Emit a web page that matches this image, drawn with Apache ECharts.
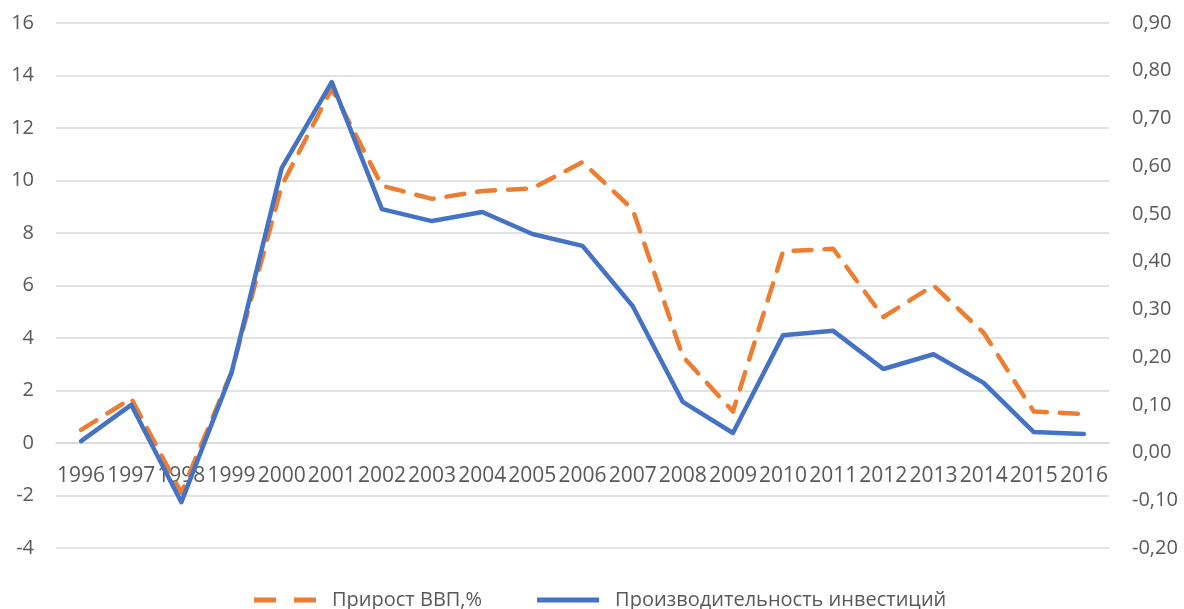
<!DOCTYPE html>
<html>
<head>
<meta charset="utf-8">
<script src="https://cdn.jsdelivr.net/npm/echarts@6/dist/echarts.min.js"></script>
<style>
  html, body { margin: 0; padding: 0; background: #fff; }
  #container { width: 1184px; height: 609px; }
</style>
</head>
<body>
<div id="container"></div>
<script>
var years = ['1996','1997','1998','1999','2000','2001','2002','2003','2004','2005','2006',
             '2007','2008','2009','2010','2011','2012','2013','2014','2015','2016'];

// Прирост ВВП, % (левая ось)
var gdpGrowth = [0.5, 1.7, -1.9, 2.7, 9.8, 13.5, 9.8, 9.3, 9.6, 9.7, 10.7,
                 8.9, 3.3, 1.2, 7.3, 7.4, 4.8, 6.0, 4.2, 1.2, 1.1];

// Производительность инвестиций (правая ось)
var investProd = [0.024, 0.100, -0.104, 0.167, 0.596, 0.776, 0.510, 0.485, 0.504, 0.458, 0.433,
                  0.307, 0.106, 0.041, 0.246, 0.255, 0.175, 0.206, 0.146, 0.043, 0.039];

var dom = document.getElementById('container');
var myChart = echarts.init(dom, null, { renderer: 'canvas' });

var font = '"Open Sans", "Noto Sans", sans-serif';
var textColor = '#595959';

// иконки легенды: пунктир и сплошная линия
var dashIcon = 'path://M0,0h22v5h-22z M40,0h22v5h-22z';
var solidIcon = 'path://M0,0h62v5h-62z';

var option = {
  animation: false,
  textStyle: { fontFamily: font },
  grid: {
    left: 56,
    right: 75,
    top: 23,
    bottom: 61,
    containLabel: false
  },
  legend: {
    bottom: -6,
    left: 249,
    itemWidth: 62,
    itemHeight: 5,
    itemGap: 55,
    textStyle: { fontFamily: font, fontSize: 20, color: textColor, padding: [0, 0, 0, 11] },
    data: [
      { name: 'Прирост ВВП,%', icon: dashIcon, itemStyle: { color: '#ED7D31' } },
      { name: 'Производительность инвестиций', icon: solidIcon, itemStyle: { color: '#4472C4' } }
    ]
  },
  xAxis: {
    type: 'category',
    data: years,
    boundaryGap: true,
    offset: -105,
    axisLine: { show: true, onZero: false, lineStyle: { color: '#d9d9d9', width: 1.5 } },
    axisTick: { show: false },
    axisLabel: { color: textColor, fontSize: 21, margin: 23, interval: 0, fontFamily: font },
    splitLine: { show: false }
  },
  yAxis: [
    {
      type: 'value',
      min: -4,
      max: 16,
      interval: 2,
      axisLine: { show: false },
      axisTick: { show: false },
      axisLabel: { color: textColor, fontSize: 20, margin: 22, fontFamily: font },
      splitLine: { lineStyle: { color: '#d9d9d9', width: 1.5 } }
    },
    {
      type: 'value',
      min: -0.2,
      max: 0.9,
      interval: 0.1,
      position: 'right',
      axisLine: { show: false },
      axisTick: { show: false },
      axisLabel: {
        color: textColor, fontSize: 20, margin: 23, fontFamily: font,
        formatter: function (v) { return v.toFixed(2).replace('.', ','); }
      },
      splitLine: { show: false }
    }
  ],
  series: [
    {
      name: 'Прирост ВВП,%',
      type: 'line',
      yAxisIndex: 0,
      data: gdpGrowth,
      symbol: 'none',
      color: '#ED7D31',
      lineStyle: { color: '#ED7D31', width: 4.5, type: [18, 13], cap: 'round', join: 'round' },
      z: 2
    },
    {
      name: 'Производительность инвестиций',
      type: 'line',
      yAxisIndex: 1,
      data: investProd,
      symbol: 'none',
      color: '#4472C4',
      lineStyle: { color: '#4472C4', width: 4.5, cap: 'round', join: 'round' },
      z: 3
    }
  ]
};

myChart.setOption(option);
window.addEventListener('resize', myChart.resize);
</script>
</body>
</html>
